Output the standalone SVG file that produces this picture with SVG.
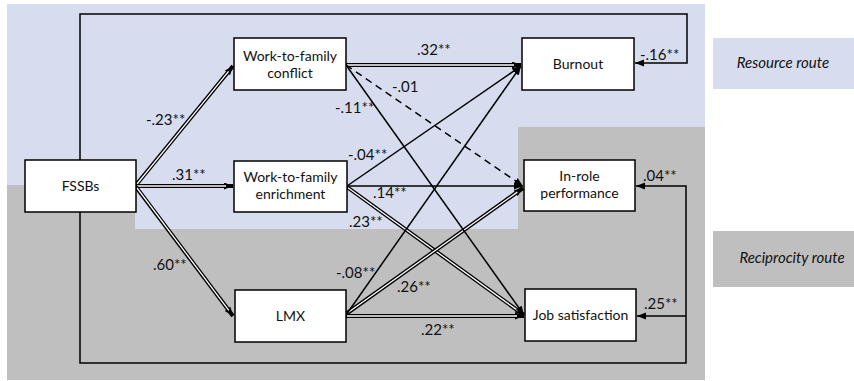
<svg xmlns="http://www.w3.org/2000/svg" width="854" height="381" viewBox="0 0 854 381">
<style>
.node rect{fill:#fff;stroke:#000;stroke-width:1.5}
.nt{font-family:Lato,"Open Sans",sans-serif;font-size:14px;fill:#111;text-anchor:middle}
.lb{font-family:Lato,"Open Sans",sans-serif;font-size:15px;fill:#111}
.lg{font-family:Lato,"Open Sans",sans-serif;font-size:15px;font-style:italic;fill:#111;text-anchor:middle}
.s{fill:none;stroke:#000;stroke-width:1.5}
.d{fill:none;stroke:#000;stroke-width:4}
.w{fill:none;stroke:#fff;stroke-width:1.3}
</style>
<defs>
<marker id="ah" markerUnits="userSpaceOnUse" markerWidth="10" markerHeight="8" refX="9" refY="3.5" orient="auto">
<path d="M0,0 L9,3.5 L0,7 z" fill="#000"/>
</marker>
</defs>
<rect width="854" height="381" fill="#fff"/>
<g id="background">
<polygon points="7,4 705,4 705,127 518,127 518,229 135,229 135,185 7,185" fill="#d7ddef"/>
<polygon points="7,185 135,185 135,229 518,229 518,127 705,127 705,380 7,380" fill="#bfbfbf"/>
</g>
<g id="legend-resource"><rect x="713" y="38" width="141" height="51" fill="#d7ddef"/><text class="lg" x="783" y="68">Resource route</text></g>
<g id="legend-reciprocity"><rect x="713" y="231" width="141" height="56" fill="#bfbfbf"/><text class="lg" x="792" y="263">Reciprocity  route</text></g>
<g id="connectors">
<path class="s" d="M80,160 V14 H687 V63 H635" marker-end="url(#ah)"/>
<path class="s" d="M80,212 V363 H686 V186 H636" marker-end="url(#ah)"/>
<path class="s" d="M686,316 H637" marker-end="url(#ah)"/>
<path class="d" d="M136,185 L233,66" marker-end="url(#ah)"/><path class="w" d="M137,184 L228.6,71.4"/>
<path class="d" d="M136,186 L233,186" marker-end="url(#ah)"/><path class="w" d="M137,186 L226,186"/>
<path class="d" d="M136,187 L233,316" marker-end="url(#ah)"/><path class="w" d="M137,188 L228.8,310.4"/>
<path class="d" d="M346,65 L521,65" marker-end="url(#ah)"/><path class="w" d="M347,65 L514,65"/>
<path class="d" d="M347,187 L524,315" marker-end="url(#ah)"/><path class="w" d="M348,187.7 L518.3,310.9"/>
<path class="d" d="M346,314 L523,188" marker-end="url(#ah)"/><path class="w" d="M347,313.3 L517.3,192.1"/>
<path class="d" d="M346,316 L524,316" marker-end="url(#ah)"/><path class="w" d="M347,316 L517,316"/>
<path class="s" d="M346,65 L523,186" stroke-dasharray="7,5" marker-end="url(#ah)"/>
<path class="s" d="M346,65 L524,315" marker-end="url(#ah)"/>
<path class="s" d="M347,186 L521,66" marker-end="url(#ah)"/>
<path class="s" d="M347,186 L523,186" marker-end="url(#ah)"/>
<path class="s" d="M346,315 L521,66" marker-end="url(#ah)"/>
</g>
<g id="labels">
<text class="lb" x="146" y="125">-.23**</text>
<text class="lb" x="172" y="180">.31**</text>
<text class="lb" x="153" y="270">.60**</text>
<text class="lb" x="417" y="55">.32**</text>
<text class="lb" x="392" y="92">-.01</text>
<text class="lb" x="335" y="113">-.11**</text>
<text class="lb" x="348" y="160">-.04**</text>
<text class="lb" x="373" y="198">.14**</text>
<text class="lb" x="349" y="227">.23**</text>
<text class="lb" x="336" y="278">-.08**</text>
<text class="lb" x="397" y="292">.26**</text>
<text class="lb" x="421" y="335">.22**</text>
<text class="lb" x="640" y="60">-.16**</text>
<text class="lb" x="643" y="181">.04**</text>
<text class="lb" x="644" y="309">.25**</text>
</g>
<g id="FSSBs" class="node"><rect x="25" y="160" width="111" height="52"/><text class="nt" x="80.5" y="191">FSSBs</text></g>
<g id="WFC" class="node"><rect x="234" y="38" width="112" height="52"/><text class="nt" x="290" y="61">Work-to-family</text><text class="nt" x="290" y="78">conflict</text></g>
<g id="WFE" class="node"><rect x="234" y="161" width="113" height="51"/><text class="nt" x="290.5" y="182">Work-to-family</text><text class="nt" x="290.5" y="199">enrichment</text></g>
<g id="LMX" class="node"><rect x="235" y="290" width="111" height="52"/><text class="nt" x="290.5" y="321">LMX</text></g>
<g id="Burnout" class="node"><rect x="522" y="38" width="112" height="52"/><text class="nt" x="578" y="69">Burnout</text></g>
<g id="InRole" class="node"><rect x="524" y="160" width="111" height="51"/><text class="nt" x="579.5" y="181">In-role</text><text class="nt" x="579.5" y="198">performance</text></g>
<g id="JobSat" class="node"><rect x="525" y="289" width="111" height="52"/><text class="nt" x="580.5" y="320">Job satisfaction</text></g>
</svg>
